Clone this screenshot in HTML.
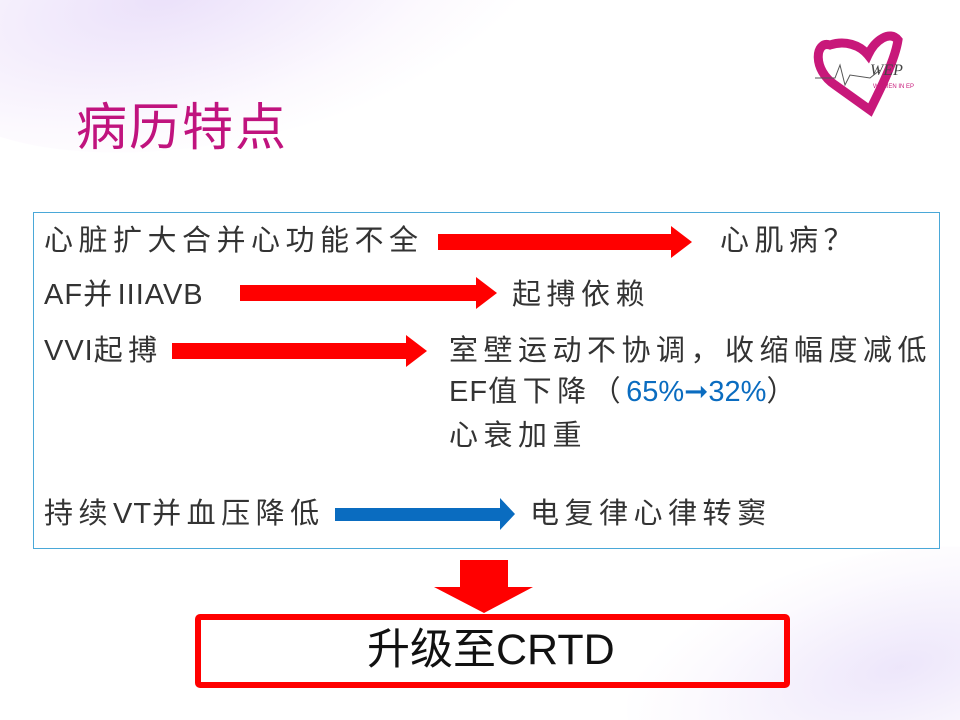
<!DOCTYPE html>
<html style="overflow:hidden;width:960px;height:720px"><head><meta charset="utf-8"><style>
html,body{margin:0;width:960px;height:720px;overflow:hidden;}
body{background:#fff;position:relative;font-family:"Liberation Sans","Noto Sans CJK SC",sans-serif;}
.t{position:absolute;font-size:29px;color:#333;letter-spacing:5.5px;white-space:nowrap;line-height:1;}
.l{letter-spacing:1px;}
.bgw{position:absolute;left:0;top:0;width:960px;height:720px;overflow:hidden;}
.bg1{position:absolute;left:-80px;top:-120px;width:620px;height:260px;border-radius:50%;background:radial-gradient(ellipse at 40% 40%,rgba(215,195,245,.5),rgba(240,225,250,.2) 55%,rgba(255,255,255,0) 75%);transform:rotate(-12deg);}
.bg2{position:absolute;left:620px;top:560px;width:460px;height:200px;border-radius:50%;background:radial-gradient(ellipse at 60% 60%,rgba(215,200,245,.45),rgba(240,230,250,.2) 55%,rgba(255,255,255,0) 75%);transform:rotate(-15deg);}
</style></head><body>
<div class="bgw"><div class="bg1"></div><div class="bg2"></div></div>
<svg width="960" height="720" style="position:absolute;left:0;top:0">
<path d="M830 45 C815 40 812 70 835 85 L870 110 C880 90 895 60 898 40 C890 30 875 40 868 55 C860 45 845 40 830 45 Z" fill="none" stroke="#c8187a" stroke-width="9"/>
<polyline points="815,78 835,78 840,65 845,85 850,75 870,78 880,70" fill="none" stroke="#555" stroke-width="1"/>
<text x="870" y="75" font-family="Liberation Serif,serif" font-size="16" font-style="italic" fill="#444">WEP</text>
<text x="873" y="88" font-size="6" fill="#c8187a" font-family="Liberation Sans,sans-serif">WOMEN IN EP</text>
<rect x="33.5" y="212.5" width="906" height="336" fill="none" stroke="#4aa8d8" stroke-width="1"/>
<polygon points="438,234 671,234 671,226 692,242 671,258 671,250 438,250" fill="#f00"/>
<polygon points="240,285 476,285 476,277 497,293 476,309 476,301 240,301" fill="#f00"/>
<polygon points="172,343 406,343 406,335 427,351 406,367 406,359 172,359" fill="#f00"/>
<polygon points="335,508 500,508 500,498 515,514 500,530 500,521 335,521" fill="#0a6cc0"/>
<polygon points="460,560 508,560 508,587 533,587 484,613 434,587 460,587" fill="#f00"/>
<rect x="198" y="617" width="589" height="68" fill="none" stroke="#f00" stroke-width="6" rx="2"/>
</svg>
<div class="t" style="left:76px;top:102px;font-size:51px;color:#c0137e;letter-spacing:2px">病历特点</div>
<div class="t" style="left:44px;top:227px">心脏扩大合并心功能不全</div>
<div class="t" style="left:720px;top:227px">心肌病？</div>
<div class="t" style="left:44px;top:281px"><span class="l">AF</span>并<span class="l">IIIAVB</span></div>
<div class="t" style="left:512px;top:281px">起搏依赖</div>
<div class="t" style="left:44px;top:337px"><span class="l">VVI</span>起搏</div>
<div class="t" style="left:449px;top:337px">室壁运动不协调，收缩幅度减低</div>
<div class="t" style="left:449px;top:378px"><span class="l">EF</span>值下降（<span style="color:#0a6cc0;letter-spacing:0">65%➞32%</span>）</div>
<div class="t" style="left:449px;top:422px">心衰加重</div>
<div class="t" style="left:44px;top:500px">持续<span class="l">VT</span>并血压降低</div>
<div class="t" style="left:530px;top:500px">电复律心律转窦</div>
<div class="t" style="left:367px;top:629px;font-size:43px;color:#111;letter-spacing:0">升级至CRTD</div>
</body></html>
